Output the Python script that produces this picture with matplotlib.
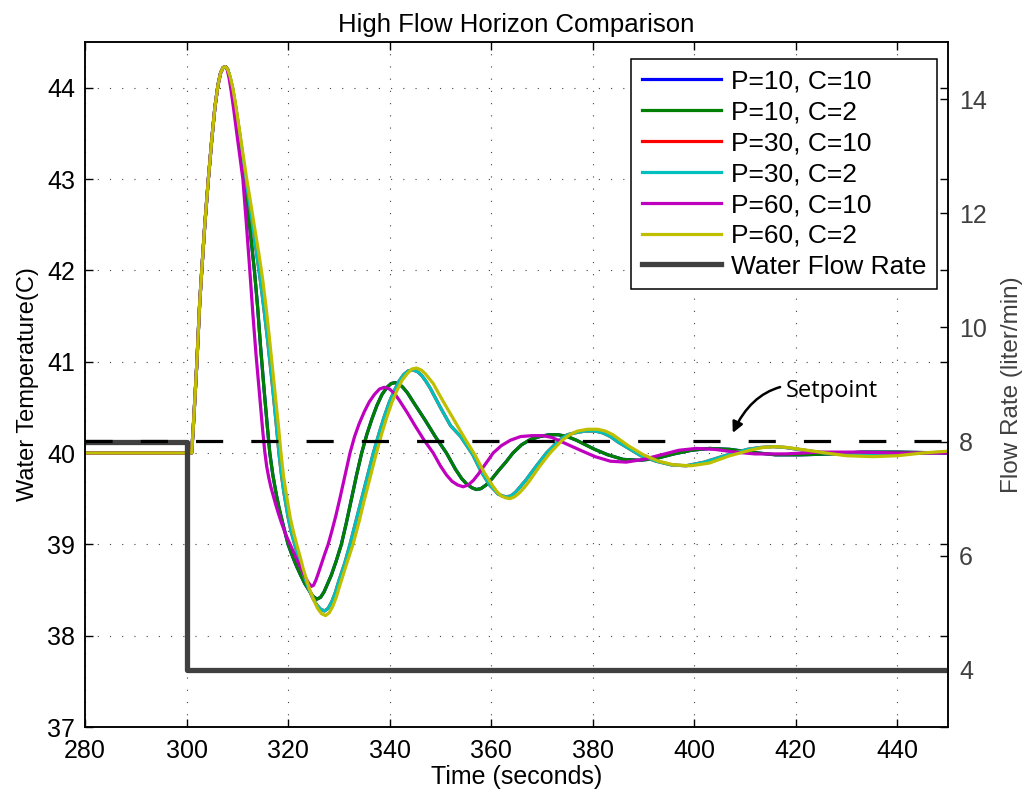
import numpy as np
import matplotlib
matplotlib.use('Agg')
import matplotlib.pyplot as plt

plt.rcParams['font.family'] = ['Liberation Sans', 'DejaVu Sans']

# shared start of every run (all controllers identical until ~308 s)
rise_t = [280, 301.0, 301.3, 301.7, 302.0, 302.3, 302.6, 303.0, 303.6, 304.3, 305.0, 305.6,
          306.2, 306.7, 307.2, 307.7]
rise_v = [40.0, 40.0, 40.25, 40.65, 40.95, 41.3, 41.65, 42.0, 42.5, 43.0, 43.45, 43.79,
          44.03, 44.16, 44.22, 44.23]

# P=10, C=2 (green)
p10c2_t = [308.1, 308.5, 309.0, 309.5, 310.1, 310.8, 311.4, 312.0, 312.7, 313.4, 314.0, 314.6,
           315.3, 315.9, 316.4, 317.0, 317.7, 318.3, 319.0, 320.0, 320.8, 321.6, 322.5, 323.3,
           324.1, 324.9, 325.7, 326.4, 327.1, 327.8, 328.5, 329.5, 330.5, 331.5, 332.5, 333.5,
           334.5, 335.5, 336.5, 337.5, 338.5, 339.5, 340.3, 341.0, 341.8, 342.6, 343.5, 345.0,
           347.0, 349.0, 351.2, 353.0, 354.2, 355.2, 356.2, 357.1, 358.0, 359.0, 360.2, 361.5,
           362.9, 364.3, 366.0, 367.8, 369.6, 371.4, 373.2, 375.0, 376.8, 378.6, 380.4, 383.0,
           386.0, 389.3, 392.5, 396.0, 399.5, 403.0, 407.0, 411.0, 416.0, 421.0, 427.0, 433.0,
           440.0, 450.0]
p10c2_v = [44.2, 44.12, 43.98, 43.8, 43.56, 43.25, 43.0, 42.7, 42.35, 41.98, 41.6, 41.15,
           40.68, 40.3, 40.0, 39.76, 39.54, 39.38, 39.22, 39.0, 38.88, 38.77, 38.66, 38.57,
           38.5, 38.43, 38.40, 38.42, 38.48, 38.57, 38.66, 38.82, 39.0, 39.24, 39.5, 39.76,
           40.0, 40.2, 40.37, 40.52, 40.64, 40.72, 40.76, 40.77, 40.76, 40.72, 40.66, 40.53,
           40.36, 40.18, 40.0, 39.82, 39.72, 39.66, 39.62, 39.60, 39.61, 39.65, 39.72, 39.81,
           39.9, 40.0, 40.09, 40.15, 40.18, 40.2, 40.2, 40.18, 40.14, 40.09, 40.04, 39.98,
           39.93, 39.92, 39.94, 39.99, 40.03, 40.05, 40.04, 40.01, 39.98, 39.98, 39.99, 40.01,
           40.01, 40.0]

# P=30, C=2 (cyan)
p30c2_t = [308.1, 308.6, 309.1, 309.6, 310.2, 311.0, 311.6, 312.4, 313.2, 314.4, 315.2, 315.9,
           316.5, 317.1, 317.7, 318.2, 318.7, 319.2, 320.0, 320.6, 321.3, 322.0, 322.6, 323.3,
           324.0, 324.8, 325.6, 326.4, 327.2, 327.9, 328.6, 329.3, 330.0, 331.2, 332.2, 333.4,
           334.5, 335.7, 336.8, 337.9, 338.9, 339.9, 340.9, 341.9, 342.8, 343.7, 344.6, 345.5,
           346.3, 347.1, 348.0, 350.0, 352.0, 354.0, 356.4, 358.0, 359.7, 361.4, 362.2, 363.0,
           363.9, 364.8, 366.8, 368.8, 370.9, 373.4, 375.0, 376.5, 378.5, 380.5, 382.0, 383.5,
           385.0, 386.5, 389.5, 392.5, 395.5, 398.4, 402.0, 406.0, 410.5, 413.0, 415.5, 418.0,
           420.5, 425.5, 430.0, 435.0, 440.0, 445.0, 450.0]
p30c2_v = [44.2, 44.11, 43.99, 43.82, 43.6, 43.28, 43.03, 42.73, 42.42, 41.95, 41.6, 41.27,
           40.96, 40.64, 40.3, 40.0, 39.76, 39.56, 39.3, 39.14, 39.0, 38.86, 38.75, 38.63,
           38.52, 38.42, 38.34, 38.29, 38.27, 38.3, 38.37, 38.47, 38.6, 38.8, 39.0, 39.26,
           39.5, 39.76, 40.0, 40.21, 40.39, 40.55, 40.68, 40.79, 40.86, 40.9, 40.91, 40.89,
           40.85, 40.79, 40.71, 40.5, 40.3, 40.18, 39.98, 39.8, 39.65, 39.55, 39.53, 39.52,
           39.53, 39.57, 39.7, 39.85, 40.0, 40.14, 40.2, 40.22, 40.24, 40.24, 40.22, 40.18,
           40.12, 40.07, 39.97, 39.91, 39.87, 39.86, 39.9, 39.97, 40.04, 40.06, 40.07, 40.06,
           40.04, 40.0, 39.98, 39.98, 39.99, 40.0, 40.01]

# P=60, C=10 (magenta)
p60c10_t = [308.0, 308.4, 308.8, 309.3, 309.9, 310.5, 311.1, 311.8, 312.4, 313.1, 313.7, 314.4,
            315.0, 315.4, 315.8, 316.2, 316.6, 317.1, 317.6, 318.2, 318.8, 319.6, 320.4, 321.2,
            322.0, 322.7, 323.4, 324.0, 324.6, 325.0, 325.5, 326.0, 326.6, 327.2, 327.9, 328.6,
            329.4, 330.2, 331.2, 332.2, 333.1, 334.0, 335.0, 336.0, 337.0, 338.0, 339.0, 340.0,
            341.0, 342.0, 343.5, 345.0, 346.8, 348.6, 350.0, 351.2, 352.3, 353.4, 354.5, 355.5,
            356.5, 357.5, 358.5, 359.4, 360.4, 362.0, 363.8, 365.8, 368.0, 370.2, 372.0, 374.0,
            376.0, 378.0, 380.5, 383.5, 386.6, 390.0, 393.5, 397.0, 400.4, 404.0, 408.0, 412.0,
            418.0, 425.0, 432.0, 440.0, 450.0]
p60c10_v = [44.2, 44.1, 43.96, 43.76, 43.5, 43.25, 43.0, 42.5, 42.05, 41.5, 41.07, 40.63,
            40.25, 40.02, 39.85, 39.73, 39.63, 39.53, 39.43, 39.32, 39.22, 39.1, 39.0, 38.9,
            38.8, 38.72, 38.64, 38.58, 38.54, 38.55, 38.61, 38.69, 38.79, 38.89, 39.0, 39.14,
            39.31, 39.5, 39.75, 40.0, 40.18, 40.32, 40.45, 40.56, 40.64, 40.7, 40.72, 40.7,
            40.65, 40.57, 40.44, 40.3, 40.14, 40.0, 39.86, 39.76, 39.69, 39.65, 39.63, 39.65,
            39.7, 39.77, 39.85, 39.92, 40.0, 40.08, 40.14, 40.18, 40.19, 40.19, 40.17, 40.12,
            40.07, 40.02, 39.96, 39.91, 39.90, 39.93, 39.98, 40.03, 40.05, 40.04, 40.01, 39.99,
            39.99, 40.01, 40.01, 40.0, 40.0]

# P=60, C=2 (yellow)
p60c2_t = [308.1, 308.6, 309.1, 309.6, 310.2, 311.0, 311.8, 312.6, 313.4, 314.2, 315.0, 315.7,
           316.3, 316.9, 317.5, 318.1, 318.6, 319.1, 319.6, 320.4, 321.0, 321.7, 322.4, 323.0,
           323.6, 324.3, 325.0, 325.8, 326.6, 327.4, 328.1, 328.8, 329.5, 330.2, 331.5, 332.8,
           334.0, 335.0, 336.2, 337.4, 338.5, 339.5, 340.5, 341.5, 342.5, 343.5, 344.4, 345.3,
           346.2, 347.0, 348.6, 350.5, 352.5, 354.7, 356.8, 358.5, 359.4, 360.2, 361.1, 362.0,
           362.8, 363.7, 364.6, 365.5, 366.5, 367.5, 369.5, 371.6, 374.0, 375.5, 377.0, 379.0,
           381.0, 382.5, 384.0, 385.5, 387.0, 390.0, 393.0, 396.0, 399.4, 403.0, 407.0, 411.0,
           413.5, 416.0, 418.5, 421.0, 426.0, 430.0, 435.2, 440.0, 445.0, 450.0]
p60c2_v = [44.2, 44.12, 44.0, 43.84, 43.62, 43.32, 43.02, 42.75, 42.47, 42.2, 41.9, 41.58,
           41.27, 40.95, 40.62, 40.3, 40.0, 39.75, 39.57, 39.3, 39.15, 39.0, 38.86, 38.73,
           38.62, 38.5, 38.4, 38.3, 38.24, 38.22, 38.25, 38.32, 38.42, 38.55, 38.78, 39.0,
           39.25, 39.48, 39.74, 40.0, 40.22, 40.4, 40.56, 40.69, 40.8, 40.87, 40.92, 40.93,
           40.91, 40.87, 40.76, 40.57, 40.38, 40.17, 39.98, 39.8, 39.72, 39.65, 39.58, 39.53,
           39.51, 39.50, 39.52, 39.56, 39.62, 39.69, 39.85, 40.0, 40.14, 40.2, 40.24, 40.26,
           40.26, 40.24, 40.2, 40.14, 40.08, 39.98, 39.91, 39.87, 39.86, 39.89, 39.97, 40.03,
           40.06, 40.07, 40.06, 40.04, 40.0, 39.97, 39.96, 39.97, 40.0, 40.02]

# C=10 runs lie underneath the C=2 runs with the same P in the original plot
p10c10_t, p10c10_v = p10c2_t, p10c2_v
p30c10_t, p30c10_v = p30c2_t, p30c2_v

flow_t = [280, 300, 300, 450]
flow_q = [8, 8, 4, 4]
setpoint = 40.13

labels = ['P=10, C=10', 'P=10, C=2', 'P=30, C=10', 'P=30, C=2', 'P=60, C=10', 'P=60, C=2']
colors = [(0, 0, 1), (0, 0.5, 0), (1, 0, 0), (0, 0.75, 0.75), (0.75, 0, 0.75), (0.75, 0.75, 0)]
runs = [(p10c10_t, p10c10_v), (p10c2_t, p10c2_v), (p30c10_t, p30c10_v),
        (p30c2_t, p30c2_v), (p60c10_t, p60c10_v), (p60c2_t, p60c2_v)]

fig = plt.figure(figsize=(10.24, 7.99), dpi=100)
ax = fig.add_axes([85 / 1024, 1 - 727 / 799, (948 - 85) / 1024, (727 - 42) / 799])
ax2 = ax.twinx()

handles = []
for (t, v), lab, c in zip(runs, labels, colors):
    h, = ax.plot(rise_t + t, rise_v + v, color=c, lw=2.3, label=lab, solid_joinstyle='round')
    handles.append(h)

hf, = ax2.plot(flow_t, flow_q, color=(0.25, 0.25, 0.25), lw=3.8, label='Water Flow Rate')
handles.append(hf)
ax2.plot([280, 450], [setpoint, setpoint], transform=ax.transData, color='k',
         lw=2.3, linestyle=(0, (8.5, 8.8)))

ax.set_xlim(280, 450)
ax.set_ylim(37, 44.5)
ax.set_xticks(np.arange(280, 441, 20))
ax.set_yticks(np.arange(37, 45, 1))
ax2.set_ylim(3, 15)
ax2.set_yticks([4, 6, 8, 10, 12, 14])

ax.grid(True, linestyle=(0, (1, 10)), color='#444444', lw=0.8)
ax.tick_params(direction='in', length=6, width=1, top=True, right=True,
               labelsize=18, pad=7)
ax.tick_params(axis='x', pad=9)
ax2.tick_params(direction='in', length=6, width=1, labelsize=18, pad=8,
                colors='#404040')
ax2.tick_params(axis='y', color='k')
for sp in ax.spines.values():
    sp.set_linewidth(1.1)
for sp in ax2.spines.values():
    sp.set_linewidth(1.1)

ax.set_title('High Flow Horizon Comparison', fontsize=18.5, pad=7)
ax.set_xlabel('Time (seconds)', fontsize=18, labelpad=1)
ax.set_ylabel('Water Temperature(C)', fontsize=17, labelpad=6)
ax2.set_ylabel('Flow Rate (liter/min)', fontsize=17.5, color='#404040', labelpad=10)

ax2.annotate('Setpoint', xy=(407.6, 40.22), xycoords=ax.transData,
             xytext=(418.0, 40.68), textcoords=ax.transData,
             fontsize=17, family=['Open Sans', 'DejaVu Sans'], va='center', ha='left',
             arrowprops=dict(arrowstyle='-|>', color='k', lw=1.8, mutation_scale=16,
                             shrinkA=2, shrinkB=0, connectionstyle='arc3,rad=0.45'))

leg = ax2.legend(handles=handles, loc='upper right', fontsize=19,
                 bbox_to_anchor=(937 / 1024, 1 - 59 / 799), bbox_transform=fig.transFigure,
                 borderaxespad=0, fancybox=False, framealpha=1, edgecolor='k',
                 handlelength=3.0, handletextpad=0.38, labelspacing=0.26,
                 borderpad=0.4)
leg.get_frame().set_linewidth(1.1)

fig.savefig('out.png', dpi=100)
